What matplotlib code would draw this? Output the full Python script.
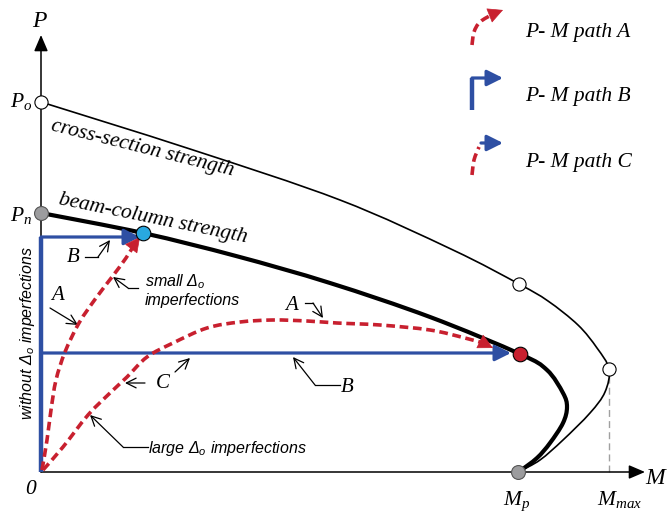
import matplotlib
matplotlib.use("Agg")
import matplotlib.pyplot as plt
from matplotlib.path import Path
from matplotlib.patches import PathPatch

plt.rcParams["mathtext.fontset"] = "custom"
plt.rcParams["mathtext.it"] = "Liberation Serif:italic"
plt.rcParams["mathtext.rm"] = "Liberation Serif"
plt.rcParams["mathtext.sf"] = "Liberation Sans:italic"

RED = "#C8202F"
BLUE = "#2E4FA3"
CYAN = "#29A8E0"
GRAY = "#9C9C9E"
SERIF = "Liberation Serif"
SANS = "Liberation Sans"
DASH = (0, (2.4, 1.3))

# diagram units: M to the right, P upwards (origin at M = 0, P = 0)
# cross-section strength (thin curve)
cs_M = [0, 149, 299, 412, 478, 507, 537, 556, 568, 564, 549, 522, 499, 479]
cs_P = [370, 323, 272, 222, 188, 171, 147, 124, 103, 80, 59, 32, 12, 1]

# beam-column strength (thick curve)
bc_M = [0, 102, 195, 289, 389, 479, 506, 522, 526, 522, 509, 496, 479]
bc_P = [259, 239, 216, 189, 155, 118, 102, 79, 65, 49, 29, 14, 1]

# P-M path A, small imperfections (red dashed)
pa_M = [1, 6, 10, 15, 24, 38, 55, 71, 85, 93, 99]
pa_P = [2, 32, 62, 92, 120, 149, 174, 195, 214, 227, 235]

# P-M path C, large imperfections (red dashed)
pc_M = [2, 22, 47, 69, 86, 106, 132, 166, 199, 232, 266, 296, 339, 389, 424, 442, 452]
pc_P = [2, 25, 57, 79, 95, 115, 129, 144, 150, 152, 151, 149, 147, 142, 134, 129, 124]

# P-M path B (blue)
pb1_M = [0, 0, 99]
pb1_P = [0, 235, 235]
pb2_M = [0, 470]
pb2_P = [119, 119]

# key points
Po = (0, 370)
Pn = (0, 259)
Mp = (477, 0)
Mmax = (568, 103)
cs_mid = (478, 188)
pt_small = (102, 239)
pt_large = (479, 118)

# legend glyphs
lgA_M = [431, 433, 439, 452, 462]
lgA_P = [427, 440, 450, 458, 462]
lgB_M = [431, 431, 462]
lgB_P = [362, 394, 394]
lgC_red_M = [431, 433, 438]
lgC_red_P = [297, 312, 325]
lgC_blue_M = [440, 462]
lgC_blue_P = [329, 329]
legend_labels = ["P- M path A", "P- M path B", "P- M path C"]
legend_P = [440, 375, 310]

# leaders: (label, label position, leader points)
leaders = [
    ("B", (32, 215), [(44, 215), (57, 215), (69, 232)]),
    ("A", (17, 177), [(9, 164), (37, 147)]),
    ("A", (251, 167), [(264, 169), (272, 169), (282, 154)]),
    ("C", (122, 89), [(104, 89), (84, 89)]),
    ("B", (306, 84), [(299, 87), (274, 87), (252, 115)]),
]
extra_leaders = [
    [(134, 100), (149, 114)],
    [(97, 184), (87, 184), (72, 195)],
    [(107, 25), (82, 25), (49, 57)],
]


def smooth(M, P):
    """Catmull-Rom through the points, as cubic Bezier path segments."""
    pts = list(zip(M, P))
    verts = [pts[0]]
    codes = [Path.MOVETO]
    for i in range(len(pts) - 1):
        p0 = pts[i - 1] if i > 0 else pts[i]
        p1, p2 = pts[i], pts[i + 1]
        p3 = pts[i + 2] if i + 2 < len(pts) else p2
        c1 = (p1[0] + (p2[0] - p0[0]) / 6, p1[1] + (p2[1] - p0[1]) / 6)
        c2 = (p2[0] - (p3[0] - p1[0]) / 6, p2[1] - (p3[1] - p1[1]) / 6)
        verts += [c1, c2, p2]
        codes += [Path.CURVE4] * 3
    return Path(verts, codes)


fig = plt.figure(figsize=(6.68, 5.15), dpi=100)
ax = fig.add_axes([0, 0, 1, 1])
ax.set_xlim(-41, 627)
ax.set_ylim(-43, 472)
ax.axis("off")

# axes arrows
axis_arrow = dict(arrowstyle="-|>,head_length=0.7,head_width=0.3",
                  color="k", lw=1.1, shrinkA=0, shrinkB=0, mutation_scale=14)
ax.annotate("", xy=(0, 437), xytext=(0, 0), arrowprops=axis_arrow)
ax.annotate("", xy=(604, 0), xytext=(0, 0), arrowprops=axis_arrow)

# strength curves
ax.add_patch(PathPatch(smooth(cs_M, cs_P), fc="none", ec="k", lw=1.2, zorder=3))
ax.add_patch(PathPatch(smooth(bc_M, bc_P), fc="none", ec="k", lw=3.0, zorder=3))
ax.plot([Mmax[0], Mmax[0]], [0, Mmax[1]], color="#A0A0A0", lw=1.0, ls=(0, (5, 3)), zorder=2)


def red_path(M, P, lw=2.6, head=True):
    body = M[:-1] if head else M
    bodyP = P[:-1] if head else P
    ax.add_patch(PathPatch(smooth(body, bodyP), fc="none", ec=RED, lw=lw, ls=DASH, zorder=4))
    if head:
        ax.annotate("", xy=(M[-1], P[-1]), xytext=(M[-2], P[-2]),
                    arrowprops=dict(arrowstyle="-|>,head_length=0.55,head_width=0.28",
                                    color=RED, lw=0.5, shrinkA=0, shrinkB=0,
                                    mutation_scale=18), zorder=4)


def blue_path(M, P, lw=2.3, lw0=3.2):
    if len(M) > 2:
        ax.plot(M[:-1], P[:-1], color=BLUE, lw=lw0, solid_capstyle="butt", zorder=4)
    ax.annotate("", xy=(M[-1], P[-1]), xytext=(M[-2], P[-2]),
                arrowprops=dict(arrowstyle="-|>,head_length=0.6,head_width=0.3",
                                color=BLUE, lw=lw, shrinkA=0, shrinkB=0,
                                mutation_scale=16), zorder=4)


blue_path(pb1_M, pb1_P)
blue_path(pb2_M, pb2_P)
red_path(pa_M, pa_P)
red_path(pc_M, pc_P)

# legend
red_path(lgA_M, lgA_P)
blue_path(lgB_M, lgB_P)
red_path(lgC_red_M, lgC_red_P, head=False)
blue_path(lgC_blue_M, lgC_blue_P)
for lab, p in zip(legend_labels, legend_P):
    ax.text(484, p, lab, family=SERIF, style="italic", fontsize=15.5, va="center", ha="left")

# markers
for pt in (Po, cs_mid, Mmax):
    ax.plot(*pt, "o", ms=9.5, mfc="white", mec="k", mew=0.8, zorder=6)
for pt in (Pn, Mp):
    ax.plot(*pt, "o", ms=10, mfc=GRAY, mec="#555555", mew=0.8, zorder=6)
ax.plot(*pt_small, "o", ms=10.5, mfc=CYAN, mec="k", mew=0.8, zorder=6)
ax.plot(*pt_large, "o", ms=10.5, mfc=RED, mec="k", mew=0.8, zorder=6)

# leaders
lead_arrow = dict(arrowstyle="->,head_length=0.5,head_width=0.25", color="k",
                  lw=0.9, shrinkA=0, shrinkB=0, mutation_scale=14)
for lab, pos, pts in leaders:
    ax.text(pos[0], pos[1], lab, family=SERIF, style="italic", fontsize=15,
            ha="center", va="center")
for pts in [l[2] for l in leaders] + extra_leaders:
    if len(pts) > 2:
        ax.plot([q[0] for q in pts[:-1]], [q[1] for q in pts[:-1]], color="k", lw=0.9)
    ax.annotate("", xy=pts[-1], xytext=pts[-2], arrowprops=lead_arrow)

# texts
ax.text(101, 324, "cross-section strength", rotation=-14, family=SERIF, style="italic",
        fontsize=15.5, ha="center", va="center", rotation_mode="anchor")
ax.text(112, 253, "beam-column strength", rotation=-11.5, family=SERIF, style="italic",
        fontsize=15.5, ha="center", va="center", rotation_mode="anchor")
ax.text(104, 190, r"small $\mathsf{\Delta_o}$", family=SANS, style="italic",
        fontsize=11.5, ha="left", va="center")
ax.text(104, 172, "imperfections", family=SANS, style="italic",
        fontsize=11.5, ha="left", va="center")
ax.text(107, 23, r"large $\mathsf{\Delta_o}$ imperfections", family=SANS, style="italic",
        fontsize=11.5, ha="left", va="center")
ax.text(-13, 139, r"without $\mathsf{\Delta_o}$ imperfections", family=SANS, style="italic",
        fontsize=11.5, ha="center", va="center", rotation=90)

# axis labels
ax.text(-1, 452, r"$P$", fontsize=17, ha="center", va="center")
ax.text(616, -5, r"$M$", fontsize=17, ha="center", va="center")
ax.text(-9, 370, r"$P_o$", fontsize=15.5, ha="right", va="center")
ax.text(-9, 256, r"$P_n$", fontsize=15.5, ha="right", va="center")
ax.text(-10, -18, "0", family=SERIF, style="italic", fontsize=15.5, ha="center", va="center")
ax.text(476, -33, r"$M_p$", fontsize=15.5, ha="center", va="baseline")
ax.text(556, -33, r"$M_{max}$", fontsize=15.5, ha="left", va="baseline")

fig.savefig("out.png", dpi=100)
